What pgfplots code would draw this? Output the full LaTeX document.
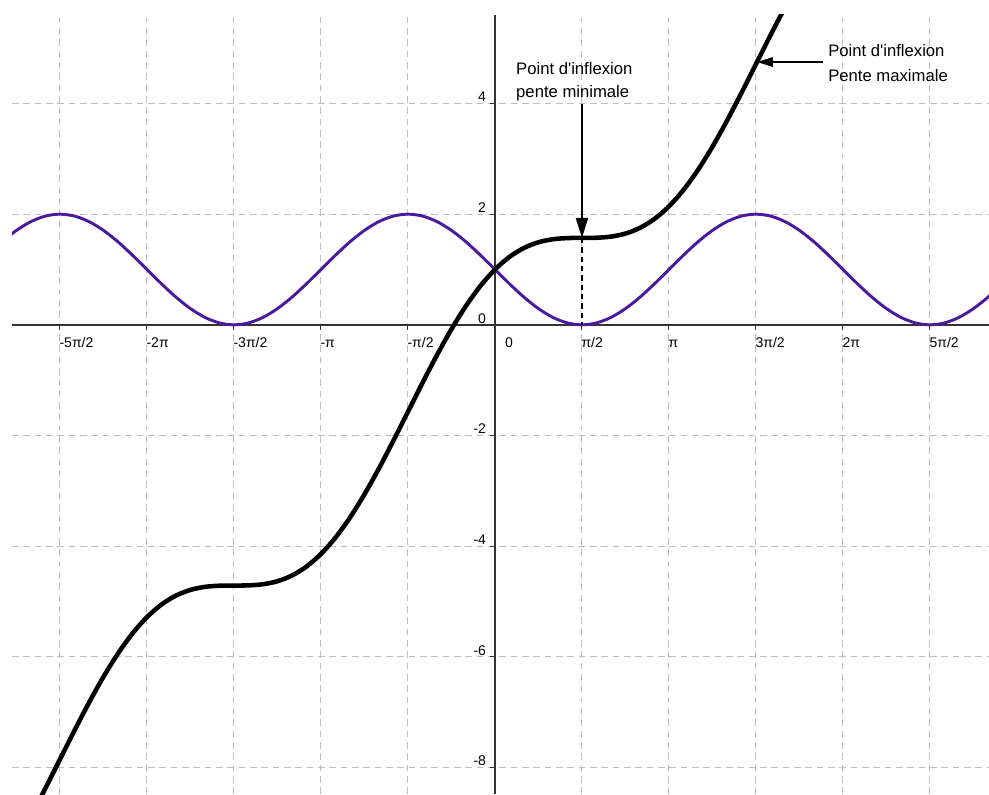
\documentclass[border=0pt]{standalone}
\usepackage{fontspec}
\setmainfont{Liberation Sans}
\usepackage{pgfplots}
\pgfplotsset{compat=1.18}
\usetikzlibrary{arrows.meta}
\definecolor{curvepurple}{RGB}{75,25,155}
\definecolor{gridgray}{RGB}{190,190,190}
\begin{document}
\begin{tikzpicture}
\begin{axis}[
 scale only axis, width=732.75pt, height=584.25pt,
 xmin=-8.72, xmax=8.92, ymin=-8.48, ymax=5.60,
 axis lines=middle,
 axis line style={-, line width=1.1pt, color=black!80},
 every inner x axis line/.append style={-},
 every inner y axis line/.append style={-},
 xtick={-7.853982,-6.283185,-4.712389,-3.141593,-1.570796,0,1.570796,3.141593,4.712389,6.283185,7.853982},
 xticklabels={-5π/2,-2π,-3π/2,-π,-π/2,\hspace*{8pt}0,π/2,π,3π/2,2π,5π/2},
 ytick={-8,-6,-4,-2,0,2,4},
 yticklabels={-8,-6,-4,-2,0,2,4},
 hide obscured x ticks=false, hide obscured y ticks=false,
 grid=major,
 major grid style={gridgray, dash pattern=on 5pt off 3.5pt, line width=0.7pt},
 tick align=outside, major tick length=4pt,
 tick style={black!80, line width=0.8pt},
 xticklabel style={anchor=north west, inner sep=0pt, text height=7.5pt, text depth=2pt, xshift=-0.5pt, yshift=-5pt, font=\fontsize{10.5}{12}\selectfont},
 yticklabel style={anchor=south east, inner sep=0pt, xshift=-2.5pt, yshift=1pt, font=\fontsize{10.5}{12}\selectfont},
]
\coordinate (bl) at (rel axis cs:0,0);
\coordinate (tr) at (rel axis cs:1,1);
\addplot[curvepurple, line width=2.2pt, smooth] coordinates {
(-9.1630,1.2588) (-8.9012,1.5) (-8.6394,1.7071) (-8.3776,1.8660) (-8.1158,1.9659)
(-7.8540,2) (-7.5922,1.9659) (-7.3304,1.8660) (-7.0686,1.7071) (-6.8068,1.5)
(-6.5450,1.2588) (-6.2832,1) (-6.0214,0.7412) (-5.7596,0.5) (-5.4978,0.2929)
(-5.2360,0.1340) (-4.9742,0.0341) (-4.7124,0) (-4.4506,0.0341) (-4.1888,0.1340)
(-3.9270,0.2929) (-3.6652,0.5) (-3.4034,0.7412) (-3.1416,1) (-2.8798,1.2588)
(-2.6180,1.5) (-2.3562,1.7071) (-2.0944,1.8660) (-1.8326,1.9659) (-1.5708,2)
(-1.3090,1.9659) (-1.0472,1.8660) (-0.7854,1.7071) (-0.5236,1.5) (-0.2618,1.2588)
(0,1) (0.2618,0.7412) (0.5236,0.5) (0.7854,0.2929) (1.0472,0.1340)
(1.3090,0.0341) (1.5708,0) (1.8326,0.0341) (2.0944,0.1340) (2.3562,0.2929)
(2.6180,0.5) (2.8798,0.7412) (3.1416,1) (3.4034,1.2588) (3.6652,1.5)
(3.9270,1.7071) (4.1888,1.8660) (4.4506,1.9659) (4.7124,2) (4.9742,1.9659)
(5.2360,1.8660) (5.4978,1.7071) (5.7596,1.5) (6.0214,1.2588) (6.2832,1)
(6.5450,0.7412) (6.8068,0.5) (7.0686,0.2929) (7.3304,0.1340) (7.5922,0.0341)
(7.8540,0) (8.1158,0.0341) (8.3776,0.1340) (8.6394,0.2929) (8.9012,0.5)
(9.1630,0.7412)
};
\addplot[black, line width=3.4pt, smooth] coordinates {
(-9.1630,-10.1289) (-8.9012,-9.7672) (-8.6394,-9.3465) (-8.3776,-8.8776)
(-8.1158,-8.3746) (-7.8540,-7.8540) (-7.5922,-7.3334) (-7.3304,-6.8304)
(-7.0686,-6.3615) (-6.8068,-5.9408) (-6.5450,-5.5791) (-6.2832,-5.2832)
(-6.0214,-5.0555) (-5.7596,-4.8936) (-5.4978,-4.7907) (-5.2360,-4.7360)
(-4.9742,-4.7154) (-4.7124,-4.7124) (-4.4506,-4.7094) (-4.1888,-4.6888)
(-3.9270,-4.6341) (-3.6652,-4.5312) (-3.4034,-4.3693) (-3.1416,-4.1416)
(-2.8798,-3.8457) (-2.6180,-3.4840) (-2.3562,-3.0633) (-2.0944,-2.5944)
(-1.8326,-2.0914) (-1.5708,-1.5708) (-1.3090,-1.0502) (-1.0472,-0.5472)
(-0.7854,-0.0783) (-0.5236,0.3424) (-0.2618,0.7041) (0,1)
(0.2618,1.2277) (0.5236,1.3896) (0.7854,1.4925) (1.0472,1.5472)
(1.3090,1.5678) (1.5708,1.5708) (1.8326,1.5738) (2.0944,1.5944)
(2.3562,1.6491) (2.6180,1.7520) (2.8798,1.9139) (3.1416,2.1416)
(3.4034,2.4375) (3.6652,2.7992) (3.9270,3.2199) (4.1888,3.6888)
(4.4506,4.1918) (4.7124,4.7124) (4.9742,5.2330) (5.2360,5.7360)
(5.4978,6.2049) (5.7596,6.6256)
};
\draw[line width=1pt, dash pattern=on 4pt off 3pt] (axis cs:1.570796,1.5708) -- (axis cs:1.570796,0);
\draw[line width=1.5pt, -{Triangle[length=15pt,width=9pt]}] (axis cs:1.570796,4) -- (axis cs:1.570796,1.5708);
\draw[line width=1.5pt, -{Triangle[length=12pt,width=7pt]}] (axis cs:5.92,4.75) -- (axis cs:4.73,4.75);
\node[anchor=base west, inner sep=0pt, font=\fontsize{12.5}{15}\selectfont] at (axis cs:0.379,4.518) {Point d\textquotesingle inflexion};
\node[anchor=base west, inner sep=0pt, font=\fontsize{12.5}{15}\selectfont] at (axis cs:0.379,4.103) {pente minimale};
\node[anchor=base west, inner sep=0pt, font=\fontsize{12.5}{15}\selectfont] at (axis cs:6.014,4.844) {Point d\textquotesingle inflexion};
\node[anchor=base west, inner sep=0pt, font=\fontsize{12.5}{15}\selectfont] at (axis cs:6.014,4.392) {Pente maximale};
\end{axis}
\pgfresetboundingbox
\path[use as bounding box] ([xshift=-9pt]bl) rectangle ([yshift=11.25pt]tr);
\end{tikzpicture}
\end{document}
